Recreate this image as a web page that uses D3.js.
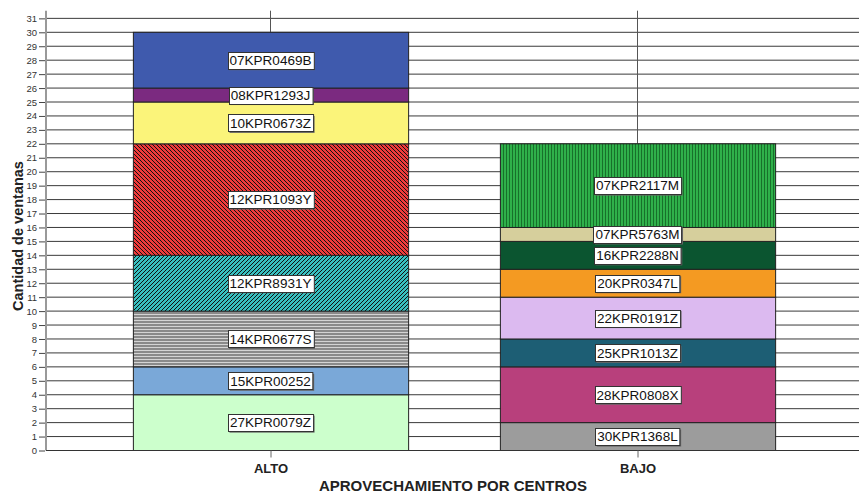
<!DOCTYPE html>
<html>
<head>
<meta charset="utf-8">
<script src="https://cdn.jsdelivr.net/npm/d3@7"></script>
<style>
  html, body { margin: 0; padding: 0; background: #fff; }
  svg { display: block; font-family: "Liberation Sans", Arial, sans-serif; }
</style>
</head>
<body>
<svg id="chart" width="859" height="496"></svg>
<script>
// ---- data ----
const categories = ["ALTO", "BAJO"];
const altoCodes  = ["27KPR0079Z", "15KPR00252", "14KPR0677S", "12KPR8931Y", "12KPR1093Y", "10KPR0673Z", "08KPR1293J", "07KPR0469B"];
const altoValues = [4, 2, 4, 4, 8, 3, 1, 4];
const altoFills  = ["#ccffcc", "#7aa8d8", "url(#pStripeH)", "url(#pHatchTeal)", "url(#pHatchRed)", "#fbf47a", "#7b2a80", "#3f5aad"];
const bajoCodes  = ["30KPR1368L", "28KPR0808X", "25KPR1013Z", "22KPR0191Z", "20KPR0347L", "16KPR2288N", "07KPR5763M", "07KPR2117M"];
const bajoValues = [2, 4, 2, 3, 2, 2, 1, 6];
const bajoFills  = ["#9c9c9c", "#b8407c", "#1d5e74", "#dcbaf0", "#f49a22", "#0b5530", "#d6cf9c", "url(#pStripeV)"];
const yTicks = d3.range(0, 32);
const yTitle = "Cantidad de ventanas";
const xTitle = "APROVECHAMIENTO POR CENTROS";

const svg = d3.select("#chart");
const W = 859, H = 496;

// ---- patterns ----
const defs = svg.append("defs");
function hatch(id, bg, dir) {
  const p = defs.append("pattern").attr("id", id).attr("patternUnits", "userSpaceOnUse")
    .attr("width", 4).attr("height", 4);
  p.append("rect").attr("width", 4).attr("height", 4).attr("fill", bg);
  if (dir > 0) {
    p.append("path").attr("d", "M-1,1 L1,-1 M0,4 L4,0 M3,5 L5,3").attr("stroke", "#111").attr("stroke-width", 1);
  } else {
    p.append("path").attr("d", "M-1,3 L1,5 M0,0 L4,4 M3,-1 L5,1").attr("stroke", "#111").attr("stroke-width", 1);
  }
}
hatch("pHatchTeal", "#38c0c0", 1);
hatch("pHatchRed", "#f03a3a", -1);
{
  const p = defs.append("pattern").attr("id", "pStripeH").attr("patternUnits", "userSpaceOnUse")
    .attr("width", 4).attr("height", 3);
  p.append("rect").attr("width", 4).attr("height", 3).attr("fill", "#8a8a8a");
  p.append("rect").attr("y", 2).attr("width", 4).attr("height", 1).attr("fill", "#d4d4d4");
}
{
  const p = defs.append("pattern").attr("id", "pStripeV").attr("patternUnits", "userSpaceOnUse")
    .attr("width", 3).attr("height", 4);
  p.append("rect").attr("width", 3).attr("height", 4).attr("fill", "#2fb04a");
  p.append("rect").attr("x", 2).attr("width", 1).attr("height", 4).attr("fill", "#17702a");
}

// ---- scales ----
const axisX = 46, bottomY = 450.5, topY = 10.7;
const y = d3.scaleLinear().domain([0, 31.55]).range([bottomY, topY]);
const x = d3.scaleBand().domain(categories).range([87, 821]).paddingInner(0.25).paddingOuter(0.125);

// ---- gridlines ----
svg.append("g").selectAll("line").data(yTicks).join("line")
  .attr("x1", axisX).attr("x2", W)
  .attr("y1", d => y(d)).attr("y2", d => y(d))
  .attr("stroke", "#3a3a3a").attr("stroke-width", 1);
svg.append("g").selectAll("line").data(categories).join("line")
  .attr("x1", d => x(d) + x.bandwidth() / 2).attr("x2", d => x(d) + x.bandwidth() / 2)
  .attr("y1", topY).attr("y2", bottomY)
  .attr("stroke", "#555").attr("stroke-width", 1);

// ---- stacks ----
const stacks = [
  { cat: "ALTO", codes: altoCodes, values: altoValues, fills: altoFills },
  { cat: "BAJO", codes: bajoCodes, values: bajoValues, fills: bajoFills }
];
const segs = [];
stacks.forEach(s => {
  let acc = 0;
  s.values.forEach((v, i) => {
    segs.push({ cat: s.cat, code: s.codes[i], y0: acc, y1: acc + v, fill: s.fills[i] });
    acc += v;
  });
});
const gBars = svg.append("g");
gBars.selectAll("rect").data(segs).join("rect")
  .attr("x", d => x(d.cat) + 0.5)
  .attr("width", x.bandwidth())
  .attr("y", d => y(d.y1))
  .attr("height", d => y(d.y0) - y(d.y1))
  .attr("fill", d => d.fill)
  .attr("stroke", "#222").attr("stroke-width", 1);

// ---- labels ----
const gLab = svg.append("g");
segs.forEach(d => {
  const cx = x(d.cat) + x.bandwidth() / 2;
  const cy = (y(d.y0) + y(d.y1)) / 2;
  const g = gLab.append("g");
  const t = g.append("text").attr("x", cx).attr("y", cy + 4.8)
    .attr("text-anchor", "middle").attr("font-size", 13.5).attr("fill", "#111").text(d.code);
  const w = t.node().getComputedTextLength() + 4;
  const h = 17;
  g.insert("rect", "text").attr("x", cx - w / 2 + 1.5).attr("y", cy - h / 2 + 1.5)
    .attr("width", w).attr("height", h).attr("fill", "#666");
  g.insert("rect", "text").attr("x", Math.round(cx - w / 2) + 0.5).attr("y", Math.round(cy - h / 2) + 0.5)
    .attr("width", w).attr("height", h).attr("fill", "#fff").attr("stroke", "#333").attr("stroke-width", 1);
});

// ---- axes ----
svg.append("line").attr("x1", axisX).attr("x2", axisX).attr("y1", topY).attr("y2", bottomY)
  .attr("stroke", "#999").attr("stroke-width", 2);
svg.append("line").attr("x1", axisX).attr("x2", W).attr("y1", bottomY).attr("y2", bottomY)
  .attr("stroke", "#333").attr("stroke-width", 1);

const yAxis = d3.axisLeft(y).tickValues(yTicks).tickSize(6).tickPadding(2).tickFormat(d3.format("d"));
const gy = svg.append("g").attr("transform", `translate(${axisX - 1},0)`).call(yAxis);
gy.select(".domain").remove();
gy.selectAll(".tick line").attr("stroke", "#444");
gy.selectAll(".tick text").attr("font-size", 9.5).attr("fill", "#333")
  .attr("font-family", "'Liberation Sans', Arial, sans-serif");

const xAxis = d3.axisBottom(x).tickSize(7).tickPadding(6);
const gx = svg.append("g").attr("transform", `translate(0.5,${bottomY})`).call(xAxis);
gx.select(".domain").remove();
gx.selectAll(".tick line").attr("stroke", "#666");
gx.selectAll(".tick text").attr("font-size", 13).attr("font-weight", "bold").attr("fill", "#222")
  .attr("font-family", "'Liberation Sans', Arial, sans-serif");

// ---- titles ----
svg.append("text").attr("x", 453).attr("y", 491).attr("text-anchor", "middle")
  .attr("font-size", 15).attr("font-weight", "bold").attr("fill", "#222").text(xTitle);
svg.append("text").attr("transform", "translate(23,236) rotate(-90)").attr("text-anchor", "middle")
  .attr("font-size", 14.5).attr("font-weight", "bold").attr("fill", "#222").text(yTitle);
</script>
</body>
</html>
